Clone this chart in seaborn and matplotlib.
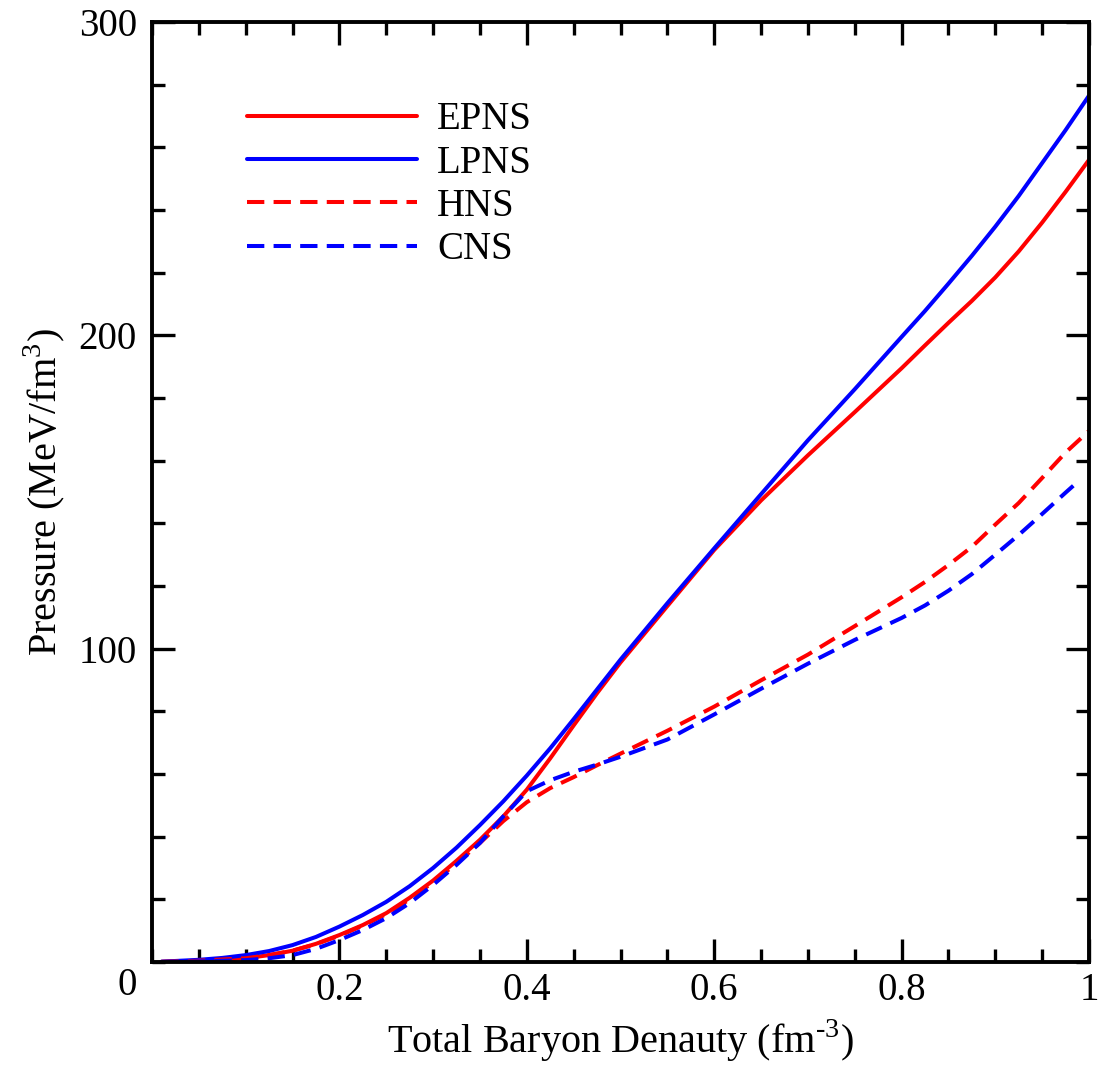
import numpy as np
import pandas as pd
import matplotlib
matplotlib.use("Agg")
import matplotlib.pyplot as plt
from matplotlib.ticker import MultipleLocator, FixedLocator
import seaborn as sns

# ---- data ----
density = [0.01, 0.05, 0.075, 0.10, 0.125, 0.15, 0.175, 0.20, 0.225, 0.25, 0.275, 0.30,
           0.325, 0.35, 0.375, 0.40, 0.425, 0.45, 0.475, 0.50, 0.55, 0.60, 0.65, 0.70,
           0.75, 0.80, 0.825, 0.85, 0.875, 0.90, 0.925, 0.95, 0.975, 1.00]
epns = [0.05, 0.4, 0.8, 1.2, 2.2, 3.6, 5.8, 8.6, 11.8, 15.6, 20.5, 26.0,
        32.3, 39.0, 46.5, 55.0, 65.0, 75.5, 85.8, 95.6, 113.6, 131.5, 147.3, 161.7,
        175.5, 189.5, 196.8, 204.0, 211.0, 218.5, 226.8, 236.0, 245.8, 256.0]
lpns = [0.1, 0.7, 1.3, 2.2, 3.5, 5.4, 8.0, 11.3, 15.0, 19.2, 24.2, 30.0,
        36.5, 43.7, 51.3, 59.5, 68.2, 77.5, 87.0, 96.5, 114.5, 132.0, 149.3, 166.5,
        182.8, 199.5, 207.8, 216.5, 225.4, 234.7, 244.5, 255.0, 265.5, 276.5]
hns = [0.05, 0.4, 0.8, 1.2, 2.2, 3.6, 5.7, 8.4, 11.6, 15.3, 20.0, 25.5,
       31.5, 38.0, 45.0, 51.0, 55.5, 59.0, 62.8, 66.5, 73.8, 81.5, 89.9, 98.1,
       107.2, 116.4, 121.3, 126.7, 132.5, 139.6, 146.5, 154.5, 162.6, 169.5]
cns_density = [0.01, 0.05, 0.075, 0.10, 0.125, 0.15, 0.175, 0.20, 0.225, 0.25, 0.275, 0.30,
               0.325, 0.35, 0.375, 0.40, 0.425, 0.45, 0.475, 0.50, 0.55, 0.60, 0.65, 0.70,
               0.75, 0.80, 0.825, 0.85, 0.875, 0.90, 0.925, 0.95, 0.975, 0.99]
cns = [0.02, 0.2, 0.4, 0.6, 1.2, 2.2, 4.2, 7.0, 10.2, 14.0, 18.8, 24.6,
       31.0, 38.0, 46.5, 54.5, 58.0, 60.7, 63.0, 65.5, 71.0, 79.0, 87.2, 95.2,
       102.8, 109.8, 113.8, 118.5, 123.8, 130.0, 136.3, 143.0, 149.8, 153.8]

series_names = ["EPNS", "LPNS", "HNS", "CNS"]
x_ticks = [0.2, 0.4, 0.6, 0.8, 1.0]
x_tick_labels = ["0.2", "0.4", "0.6", "0.8", "1"]
y_ticks = [100, 200, 300]
y_tick_labels = ["100", "200", "300"]

frames = []
for name, xs, ys in [("EPNS", density, epns), ("LPNS", density, lpns),
                     ("HNS", density, hns), ("CNS", cns_density, cns)]:
    frames.append(pd.DataFrame({"density": xs, "pressure": ys, "model": name}))
df = pd.concat(frames, ignore_index=True)

sns.set_theme(style="ticks")
plt.rcParams["font.family"] = ["Liberation Serif", "DejaVu Serif"]
plt.rcParams["mathtext.fontset"] = "custom"
plt.rcParams["mathtext.rm"] = "Liberation Serif"
for key in ["text.color", "axes.labelcolor", "xtick.color", "ytick.color", "axes.edgecolor"]:
    plt.rcParams[key] = "black"

fig = plt.figure(figsize=(11.01, 10.70), dpi=100)
ax = fig.add_axes([152 / 1101, 108 / 1070, 937 / 1101, 940 / 1070])

palette = {"EPNS": "#ff0000", "LPNS": "#0000ff", "HNS": "#ff0000", "CNS": "#0000ff"}
dashes = {"EPNS": "", "LPNS": "", "HNS": (4.3, 2.3), "CNS": (4.3, 2.3)}
sns.lineplot(data=df, x="density", y="pressure", hue="model", style="model",
             hue_order=series_names, style_order=series_names,
             palette=palette, dashes=dashes, linewidth=2.9, sort=False,
             estimator=None, ax=ax, legend=True)

ax.set_xlim(0, 1)
ax.set_ylim(0, 300)
ax.xaxis.set_major_locator(FixedLocator(x_ticks))
ax.set_xticklabels(x_tick_labels)
ax.xaxis.set_minor_locator(MultipleLocator(0.05))
ax.yaxis.set_major_locator(FixedLocator(y_ticks))
ax.set_yticklabels(y_tick_labels)
ax.yaxis.set_minor_locator(MultipleLocator(20))

ax.tick_params(which="both", direction="in", top=True, right=True, width=2.4,
               labelsize=28, colors="black")
ax.tick_params(which="major", length=16.5, pad=11)
ax.tick_params(axis="x", which="major", pad=7)
ax.tick_params(which="minor", length=9.4)
for sp in ax.spines.values():
    sp.set_linewidth(2.8)
    sp.set_color("black")

ax.text(-0.0267, -0.0245, "0", transform=ax.transAxes, ha="center", va="center",
        fontsize=28)

ax.set_xlabel(r"Total Baryon Denauty (fm$^{\mathregular{\text{-}3}}$)", fontsize=29, labelpad=6)
ax.set_ylabel(r"Pressure (MeV/fm$^{\mathregular{3}}$)", fontsize=29, labelpad=8)

leg = ax.legend(loc="upper left", bbox_to_anchor=(0.085, 0.932), frameon=False,
                fontsize=28, handlelength=4.37, handletextpad=0.52,
                labelspacing=0.16, borderaxespad=0)
for h in leg.get_lines():
    h.set_linewidth(2.9)

fig.savefig("out.png", dpi=100)
